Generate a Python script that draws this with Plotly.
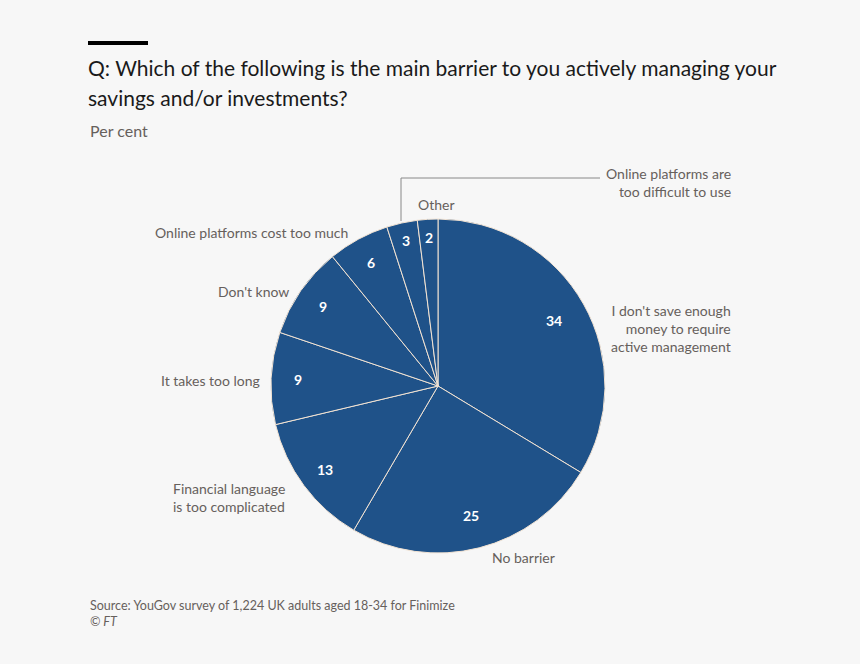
import math
import plotly.graph_objects as go

categories = ["I don't save enough money to require active management", "No barrier",
              "Financial language is too complicated", "It takes too long", "Don't know",
              "Online platforms cost too much", "Online platforms are too difficult to use", "Other"]
values = [34, 25, 13, 9, 9, 6, 3, 2]

W, H = 860, 664
BG = "#f7f7f7"
BLUE = "#1f5289"
GREY = "#66605c"
FONT = "Lato"

cx, cy, r = 438, 386, 167

def px(x):
    return x / W

def py(y):
    return 1 - y / H

fig = go.Figure(go.Pie(
    labels=categories, values=values, sort=False, direction="clockwise", rotation=0,
    marker=dict(colors=[BLUE] * len(values), line=dict(color="#f2e3d3", width=1)),
    textinfo="none",
    domain=dict(x=[px(cx - r), px(cx + r)], y=[py(cy + r), py(cy - r)]),
    showlegend=False, hoverinfo="label+value",
))

ann = []
def add(text, x, y, xanchor, yanchor="middle", size=14, color=GREY, align="left"):
    ann.append(dict(text=text, x=px(x), y=py(y), xref="paper", yref="paper", showarrow=False,
                    xanchor=xanchor, yanchor=yanchor, align=align,
                    font=dict(family=FONT, size=size, color=color)))

# value labels placed at each slice's mid-angle (derived from the data)
total = sum(values)
cum = 0
for v in values:
    mid = (cum + v / 2) / total * 2 * math.pi
    cum += v
    frac = 0.80 if v >= 20 else (0.89 if v < 5 else 0.84)
    x = cx + frac * r * math.sin(mid)
    y = cy - frac * r * math.cos(mid)
    add(f"<b>{v}</b>", x, y, "center", size=14, color="white")

add("Q: Which of the following is the main barrier to you actively managing your",
    86, 67, "left", size=21, color="#1a1a1a")
add("savings and/or investments?", 86, 97, "left", size=21, color="#1a1a1a")
add("Per cent", 88, 130, "left", size=16, color=GREY)
add("Online platforms are<br>too difficult to use", 733, 182, "right", align="right")
add("Other", 437, 204, "center")
add("Online platforms cost too much", 350, 233, "right")
add("Don't know", 291, 291, "right")
add("It takes too long", 262, 380, "right")
add("Financial language<br>is too complicated", 171, 497, "left")
add("No barrier", 490, 557, "left")
add("I don't save enough<br>money to require<br>active management", 733, 329, "right", align="right")
add("Source: YouGov survey of 1,224 UK adults aged 18-34 for Finimize", 88, 605, "left", size=12.5)
add("<i>© FT</i>", 88, 621, "left", size=12.5)

shapes = [
    dict(type="rect", xref="paper", yref="paper", x0=px(88), x1=px(148), y0=py(45), y1=py(41),
         fillcolor="#000000", line=dict(width=0)),
    dict(type="path", xref="paper", yref="paper",
         path=f"M {px(401)},{py(221)} L {px(401)},{py(178)} L {px(600)},{py(178)}",
         line=dict(color="#888888", width=1)),
]

fig.update_layout(width=W, height=H, paper_bgcolor=BG, plot_bgcolor=BG,
                  margin=dict(l=0, r=0, t=0, b=0), annotations=ann, shapes=shapes)
fig.write_html("out.html", config={"displayModeBar": False},
               post_script="document.body.style.margin='0';document.body.style.background='#f7f7f7';document.body.style.overflow='hidden';")
